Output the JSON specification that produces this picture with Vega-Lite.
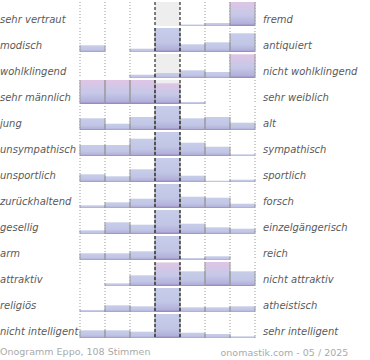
{
  "$schema": "https://vega.github.io/schema/vega-lite/v6.json",
  "background": "white",
  "padding": {"left": 0, "top": 1, "right": 0, "bottom": 0},
  "title": {"text": "Onogramm Eppo, 108 Stimmen", "orient": "bottom", "anchor": "start", "frame": "bounds", "font": "DejaVu Sans", "fontSize": 9.5, "fontWeight": "normal", "color": "#aaaaaa", "offset": -11},
  "spacing": 0,
  "vconcat": [
    {
      "data": {
        "values": [
          {"r": 0, "a": "sehr vertraut", "b": "fremd", "p": 1, "v": 0},
          {"r": 0, "a": "sehr vertraut", "b": "fremd", "p": 2, "v": 0},
          {"r": 0, "a": "sehr vertraut", "b": "fremd", "p": 3, "v": 0},
          {"r": 0, "a": "sehr vertraut", "b": "fremd", "p": 4, "v": 0},
          {"r": 0, "a": "sehr vertraut", "b": "fremd", "p": 5, "v": 1.5},
          {"r": 0, "a": "sehr vertraut", "b": "fremd", "p": 6, "v": 3},
          {"r": 0, "a": "sehr vertraut", "b": "fremd", "p": 7, "v": 24},
          {"r": 1, "a": "modisch", "b": "antiquiert", "p": 1, "v": 6.7},
          {"r": 1, "a": "modisch", "b": "antiquiert", "p": 2, "v": 0},
          {"r": 1, "a": "modisch", "b": "antiquiert", "p": 3, "v": 3.3},
          {"r": 1, "a": "modisch", "b": "antiquiert", "p": 4, "v": 24},
          {"r": 1, "a": "modisch", "b": "antiquiert", "p": 5, "v": 7.7},
          {"r": 1, "a": "modisch", "b": "antiquiert", "p": 6, "v": 9.7},
          {"r": 1, "a": "modisch", "b": "antiquiert", "p": 7, "v": 18.7},
          {"r": 2, "a": "wohlklingend", "b": "nicht wohlklingend", "p": 1, "v": 0},
          {"r": 2, "a": "wohlklingend", "b": "nicht wohlklingend", "p": 2, "v": 0},
          {"r": 2, "a": "wohlklingend", "b": "nicht wohlklingend", "p": 3, "v": 3.3},
          {"r": 2, "a": "wohlklingend", "b": "nicht wohlklingend", "p": 4, "v": 5},
          {"r": 2, "a": "wohlklingend", "b": "nicht wohlklingend", "p": 5, "v": 7.7},
          {"r": 2, "a": "wohlklingend", "b": "nicht wohlklingend", "p": 6, "v": 6},
          {"r": 2, "a": "wohlklingend", "b": "nicht wohlklingend", "p": 7, "v": 23.7},
          {"r": 3, "a": "sehr männlich", "b": "sehr weiblich", "p": 1, "v": 24},
          {"r": 3, "a": "sehr männlich", "b": "sehr weiblich", "p": 2, "v": 24},
          {"r": 3, "a": "sehr männlich", "b": "sehr weiblich", "p": 3, "v": 24},
          {"r": 3, "a": "sehr männlich", "b": "sehr weiblich", "p": 4, "v": 20.7},
          {"r": 3, "a": "sehr männlich", "b": "sehr weiblich", "p": 5, "v": 2},
          {"r": 3, "a": "sehr männlich", "b": "sehr weiblich", "p": 6, "v": 0},
          {"r": 3, "a": "sehr männlich", "b": "sehr weiblich", "p": 7, "v": 0},
          {"r": 4, "a": " jung", "b": "alt", "p": 1, "v": 11.7},
          {"r": 4, "a": " jung", "b": "alt", "p": 2, "v": 6.3},
          {"r": 4, "a": " jung", "b": "alt", "p": 3, "v": 13},
          {"r": 4, "a": " jung", "b": "alt", "p": 4, "v": 24},
          {"r": 4, "a": " jung", "b": "alt", "p": 5, "v": 11.7},
          {"r": 4, "a": " jung", "b": "alt", "p": 6, "v": 13},
          {"r": 4, "a": " jung", "b": "alt", "p": 7, "v": 7.3},
          {"r": 5, "a": "unsympathisch", "b": "sympathisch", "p": 1, "v": 11},
          {"r": 5, "a": "unsympathisch", "b": "sympathisch", "p": 2, "v": 11},
          {"r": 5, "a": "unsympathisch", "b": "sympathisch", "p": 3, "v": 17.3},
          {"r": 5, "a": "unsympathisch", "b": "sympathisch", "p": 4, "v": 24},
          {"r": 5, "a": "unsympathisch", "b": "sympathisch", "p": 5, "v": 13.3},
          {"r": 5, "a": "unsympathisch", "b": "sympathisch", "p": 6, "v": 9.3},
          {"r": 5, "a": "unsympathisch", "b": "sympathisch", "p": 7, "v": 1.7},
          {"r": 6, "a": "unsportlich", "b": "sportlich", "p": 1, "v": 7.7},
          {"r": 6, "a": "unsportlich", "b": "sportlich", "p": 2, "v": 5.7},
          {"r": 6, "a": "unsportlich", "b": "sportlich", "p": 3, "v": 12.7},
          {"r": 6, "a": "unsportlich", "b": "sportlich", "p": 4, "v": 24},
          {"r": 6, "a": "unsportlich", "b": "sportlich", "p": 5, "v": 6.3},
          {"r": 6, "a": "unsportlich", "b": "sportlich", "p": 6, "v": 1.3},
          {"r": 6, "a": "unsportlich", "b": "sportlich", "p": 7, "v": 2.3},
          {"r": 7, "a": "zurückhaltend", "b": "forsch", "p": 1, "v": 2.7},
          {"r": 7, "a": "zurückhaltend", "b": "forsch", "p": 2, "v": 5.7},
          {"r": 7, "a": "zurückhaltend", "b": "forsch", "p": 3, "v": 9.3},
          {"r": 7, "a": "zurückhaltend", "b": "forsch", "p": 4, "v": 24},
          {"r": 7, "a": "zurückhaltend", "b": "forsch", "p": 5, "v": 11.3},
          {"r": 7, "a": "zurückhaltend", "b": "forsch", "p": 6, "v": 10.3},
          {"r": 7, "a": "zurückhaltend", "b": "forsch", "p": 7, "v": 4.3},
          {"r": 8, "a": "gesellig", "b": "einzelgängerisch", "p": 1, "v": 3.7},
          {"r": 8, "a": "gesellig", "b": "einzelgängerisch", "p": 2, "v": 11.7},
          {"r": 8, "a": "gesellig", "b": "einzelgängerisch", "p": 3, "v": 9.3},
          {"r": 8, "a": "gesellig", "b": "einzelgängerisch", "p": 4, "v": 24},
          {"r": 8, "a": "gesellig", "b": "einzelgängerisch", "p": 5, "v": 10.3},
          {"r": 8, "a": "gesellig", "b": "einzelgängerisch", "p": 6, "v": 6.7},
          {"r": 8, "a": "gesellig", "b": "einzelgängerisch", "p": 7, "v": 5.3},
          {"r": 9, "a": "arm", "b": "reich", "p": 1, "v": 6.7},
          {"r": 9, "a": "arm", "b": "reich", "p": 2, "v": 6.7},
          {"r": 9, "a": "arm", "b": "reich", "p": 3, "v": 8.7},
          {"r": 9, "a": "arm", "b": "reich", "p": 4, "v": 24},
          {"r": 9, "a": "arm", "b": "reich", "p": 5, "v": 2},
          {"r": 9, "a": "arm", "b": "reich", "p": 6, "v": 3.7},
          {"r": 9, "a": "arm", "b": "reich", "p": 7, "v": 0},
          {"r": 10, "a": "attraktiv", "b": "nicht attraktiv", "p": 1, "v": 0},
          {"r": 10, "a": "attraktiv", "b": "nicht attraktiv", "p": 2, "v": 2.7},
          {"r": 10, "a": "attraktiv", "b": "nicht attraktiv", "p": 3, "v": 10.7},
          {"r": 10, "a": "attraktiv", "b": "nicht attraktiv", "p": 4, "v": 23.3},
          {"r": 10, "a": "attraktiv", "b": "nicht attraktiv", "p": 5, "v": 14.7},
          {"r": 10, "a": "attraktiv", "b": "nicht attraktiv", "p": 6, "v": 24},
          {"r": 10, "a": "attraktiv", "b": "nicht attraktiv", "p": 7, "v": 14.7},
          {"r": 11, "a": "religiös", "b": "atheistisch", "p": 1, "v": 2},
          {"r": 11, "a": "religiös", "b": "atheistisch", "p": 2, "v": 6.7},
          {"r": 11, "a": "religiös", "b": "atheistisch", "p": 3, "v": 5.7},
          {"r": 11, "a": "religiös", "b": "atheistisch", "p": 4, "v": 24},
          {"r": 11, "a": "religiös", "b": "atheistisch", "p": 5, "v": 4.7},
          {"r": 11, "a": "religiös", "b": "atheistisch", "p": 6, "v": 4.7},
          {"r": 11, "a": "religiös", "b": "atheistisch", "p": 7, "v": 5.7},
          {"r": 12, "a": "nicht intelligent", "b": "sehr intelligent", "p": 1, "v": 7.7},
          {"r": 12, "a": "nicht intelligent", "b": "sehr intelligent", "p": 2, "v": 7.7},
          {"r": 12, "a": "nicht intelligent", "b": "sehr intelligent", "p": 3, "v": 6.3},
          {"r": 12, "a": "nicht intelligent", "b": "sehr intelligent", "p": 4, "v": 24},
          {"r": 12, "a": "nicht intelligent", "b": "sehr intelligent", "p": 5, "v": 5.3},
          {"r": 12, "a": "nicht intelligent", "b": "sehr intelligent", "p": 6, "v": 4},
          {"r": 12, "a": "nicht intelligent", "b": "sehr intelligent", "p": 7, "v": 1.7}
        ]
      },
      "title": {"text": "onomastik.com - 05 / 2025", "orient": "bottom", "anchor": "end", "frame": "bounds", "font": "DejaVu Sans", "fontSize": 9.5, "fontWeight": "normal", "color": "#aaaaaa", "offset": 9, "dx": -9},
      "facet": {
        "row": {
          "field": "r", "type": "ordinal", "title": null,
          "header": {"labels": false, "title": null, "labelPadding": 0, "titlePadding": 0}
        }
      },
      "spacing": 2,
      "bounds": "flush",
      "spec": {
        "width": 175,
        "height": 24,
        "encoding": {
          "x": {"field": "p", "type": "ordinal", "axis": null, "scale": {"domain": [1, 2, 3, 4, 5, 6, 7], "paddingInner": 0, "paddingOuter": 0}}
        },
        "layer": [
          {
            "transform": [{"filter": "datum.p == 4"}],
            "mark": {"type": "rect", "color": "#eeeeee"},
            "encoding": {}
          },
          {
            "transform": [{"filter": "datum.p != 4 && datum.p != 5"}],
            "mark": {"type": "rule", "color": "#999999", "strokeDash": [1, 2], "strokeWidth": 1},
            "encoding": {"x": {"field": "p", "type": "ordinal", "bandPosition": 0}}
          },
          {
            "transform": [{"filter": "datum.p == 7"}],
            "mark": {"type": "rule", "color": "#999999", "strokeDash": [1, 2], "strokeWidth": 1},
            "encoding": {"x": {"field": "p", "type": "ordinal", "bandPosition": 1}}
          },
          {
            "mark": {"type": "bar", "cornerRadius": 0},
            "encoding": {
              "y": {"field": "v", "type": "quantitative", "axis": null, "scale": {"domain": [0, 24], "nice": false}},
              "fill": {
                "condition": {
                  "test": "(datum.r == 0 && datum.p == 7) || (datum.r == 2 && datum.p == 7) || (datum.r == 3 && datum.p <= 4) || (datum.r == 10 && (datum.p == 4 || datum.p == 6))",
                  "value": {"gradient": "linear", "x1": 0, "y1": 1, "x2": 0, "y2": 0, "stops": [{"offset": 0, "color": "#9282bc"}, {"offset": 0.1, "color": "#b2b0da"}, {"offset": 0.45, "color": "#c6c8e8"}, {"offset": 1, "color": "#dfc5e5"}]}
                },
                "value": {"gradient": "linear", "x1": 0, "y1": 1, "x2": 0, "y2": 0, "stops": [{"offset": 0, "color": "#9282bc"}, {"offset": 0.1, "color": "#b2b0da"}, {"offset": 0.4, "color": "#c2c6e6"}, {"offset": 1, "color": "#c7cde9"}]}
              }
            }
          },
          {
            "mark": {"type": "rule", "color": "#999999", "strokeWidth": 1},
            "encoding": {
              "x": {"field": "p", "type": "ordinal", "bandPosition": 0},
              "y": {"field": "v", "type": "quantitative"},
              "y2": {"datum": 0}
            }
          },
          {
            "mark": {"type": "rule", "color": "#999999", "strokeWidth": 1},
            "encoding": {
              "x": {"field": "p", "type": "ordinal", "bandPosition": 1},
              "y": {"field": "v", "type": "quantitative"},
              "y2": {"datum": 0}
            }
          },
          {
            "transform": [{"filter": "datum.p == 4 || datum.p == 5"}],
            "mark": {"type": "rule", "color": "#000000", "strokeDash": [3, 2], "strokeWidth": 1},
            "encoding": {"x": {"field": "p", "type": "ordinal", "bandPosition": 0}}
          },
          {
            "transform": [{"filter": "datum.p == 1"}],
            "mark": {"type": "rule", "color": "#000000", "strokeWidth": 2},
            "encoding": {"y": {"datum": 0, "type": "quantitative"}}
          },
          {
            "transform": [{"filter": "datum.p == 7"}],
            "mark": {"type": "text", "align": "left", "baseline": "bottom", "dx": 8, "dy": -1, "font": "DejaVu Sans", "fontSize": 10, "fontStyle": "italic", "color": "#5a5a5a"},
            "encoding": {
              "x": {"field": "p", "type": "ordinal", "bandPosition": 1},
              "y": {"datum": 0, "type": "quantitative"},
              "text": {"field": "b"}
            }
          },
          {
            "transform": [{"filter": "datum.p == 1"}],
            "mark": {"type": "text", "align": "left", "baseline": "bottom", "dx": -80, "dy": -1, "font": "DejaVu Sans", "fontSize": 10, "fontStyle": "italic", "color": "#5a5a5a"},
            "encoding": {
              "x": {"field": "p", "type": "ordinal", "bandPosition": 0},
              "y": {"datum": 0, "type": "quantitative"},
              "text": {"field": "a"}
            }
          }
        ]
      }
    }
  ],
  "config": {
    "view": {"stroke": null}
  }
}
